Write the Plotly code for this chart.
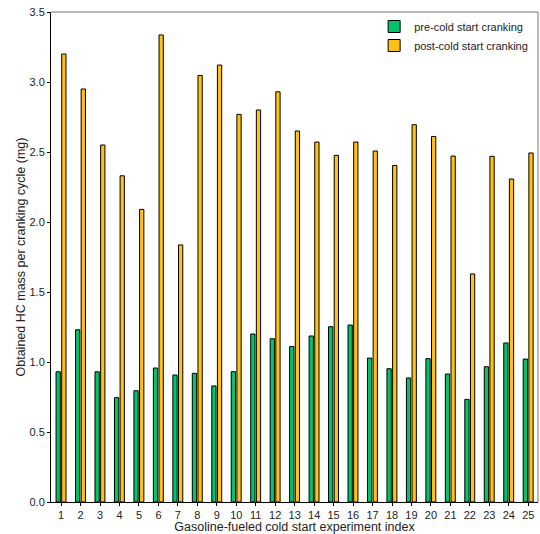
import plotly.graph_objects as go

experiments = list(range(1, 26))
tick_labels = [str(i) for i in experiments]
pre_cranking = [0.93, 1.23, 0.93, 0.745, 0.795, 0.957, 0.907, 0.919, 0.829, 0.931, 1.20,
                1.166, 1.111, 1.186, 1.252, 1.264, 1.028, 0.952, 0.886, 1.024, 0.914,
                0.733, 0.966, 1.136, 1.021]
post_cranking = [3.20, 2.95, 2.55, 2.33, 2.09, 3.336, 1.836, 3.047, 3.121, 2.769, 2.80,
                 2.93, 2.65, 2.571, 2.476, 2.571, 2.507, 2.404, 2.695, 2.611, 2.471,
                 1.629, 2.469, 2.307, 2.493]

font = "Liberation Sans, Arial, sans-serif"

fig = go.Figure()
fig.add_trace(go.Bar(
    x=experiments, y=pre_cranking, name="pre-cold start cranking",
    width=0.22, offset=-0.26,
    marker=dict(color="#00C46A", line=dict(color="black", width=1)),
))
fig.add_trace(go.Bar(
    x=experiments, y=post_cranking, name="post-cold start cranking",
    width=0.22, offset=0.03,
    marker=dict(color="#FFC117", line=dict(color="black", width=1)),
))

fig.update_layout(
    width=540, height=534,
    margin=dict(l=51, r=2, t=12, b=32),
    plot_bgcolor="white", paper_bgcolor="white",
    font=dict(family=font, size=11, color="#222"),
    barmode="overlay",
    showlegend=True,
    legend=dict(x=0.99, xanchor="right", y=1.0, yanchor="top", bgcolor="rgba(0,0,0,0)",
                font=dict(size=11), itemwidth=30, tracegroupgap=0,
                borderwidth=0),
    xaxis=dict(range=[0.48, 25.5], tickmode="array", tickvals=experiments,
               ticktext=tick_labels, showgrid=False, zeroline=False,
               showline=True, linecolor="black", linewidth=1,
               ticks="outside", ticklen=3, tickcolor="black",
               title=dict(text="Gasoline-fueled cold start experiment index",
                          font=dict(size=12.5), standoff=2)),
    yaxis=dict(range=[0, 3.5], tickvals=[0, 0.5, 1, 1.5, 2, 2.5, 3, 3.5],
               ticktext=["0.0", "0.5", "1.0", "1.5", "2.0", "2.5", "3.0", "3.5"],
               showgrid=False, zeroline=False,
               showline=True, linecolor="black", linewidth=1,
               ticks="outside", ticklen=3, tickcolor="black",
               title=dict(text="Obtained HC mass per cranking cycle (mg)",
                          font=dict(size=12.5), standoff=1)),
    shapes=[
        dict(type="line", xref="paper", yref="paper", x0=0, x1=1, y0=1, y1=1,
             line=dict(color="#777", width=1)),
        dict(type="line", xref="paper", yref="paper", x0=1, x1=1, y0=0, y1=1,
             line=dict(color="#777", width=1)),
    ],
)

fig.write_html("out.html", config={"displayModeBar": False},
               post_script="document.body.style.margin='0';document.body.style.overflow='hidden';")
